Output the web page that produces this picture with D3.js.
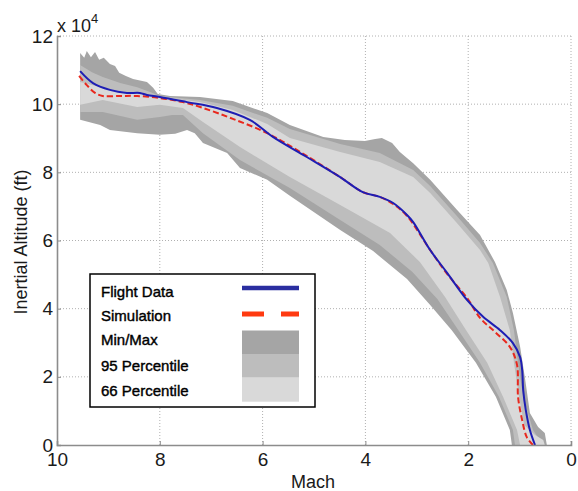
<!DOCTYPE html>
<html>
<head>
<meta charset="utf-8">
<script src="https://cdn.jsdelivr.net/npm/d3@7"></script>
<style>
  html, body { margin: 0; padding: 0; background: #fff; }
  svg { display: block; font-family: Arial, "Liberation Sans", sans-serif; }
</style>
</head>
<body>
<svg id="chart" width="578" height="491"></svg>
<script>
// ---------- data (Mach, altitude in ft) ----------
const xTicks = [10, 8, 6, 4, 2, 0];
const yTicks = [0, 20000, 40000, 60000, 80000, 100000, 120000];
const yTickLabels = ["0", "2", "4", "6", "8", "10", "12"];

const flightData = [
  [9.55,109700],[9.30,106200],[8.97,104200],[8.64,103300],[8.39,103300],[8.25,102700],
  [8.00,102100],[7.47,100600],[6.89,98900],[6.25,95400],[5.80,90400],[5.14,84500],
  [4.49,78600],[4.05,74200],[3.72,72800],[3.46,71000],[3.19,67500],[3.07,65400],
  [2.74,57200],[2.41,50500],[2.02,42500],[1.71,37600],[1.38,33700],[1.13,29900],
  [0.99,25800],[0.95,22000],[0.93,16100],[0.88,10300],[0.80,4400],[0.70,0]
];
const simulation = [
  [9.57,108300],[9.42,105600],[9.26,103300],[9.11,102400],[8.77,102400],[8.44,102400],
  [8.00,101800],[7.55,100600],[7.16,98900],[6.58,95700],[5.91,91500],[5.27,86000],
  [4.49,78600],[4.05,74200],[3.72,72800],[3.46,70700],[3.19,67200],[2.74,57200],
  [2.41,50200],[2.02,43100],[1.77,37300],[1.48,33200],[1.19,28800],[1.05,23500],
  [1.03,14100],[0.95,7300],[0.86,2300],[0.74,0]
];

const minMaxUpper = [
  [9.55,115000],[9.47,113600],[9.42,115600],[9.34,113800],[9.26,115300],[9.18,113000],
  [9.09,113600],[8.97,111800],[8.87,111200],[8.79,109200],[8.66,108300],[8.52,107400],
  [8.25,106500],[8.13,104800],[8.04,103000],[7.80,102400],[7.22,102100],[6.58,100900],
  [5.91,97400],[5.47,93900],[4.82,90400],[4.40,89500],[4.01,89200],[3.81,89800],
  [3.68,90100],[3.48,88600],[3.33,86000],[3.07,82700],[2.74,77800],[2.22,69000],
  [1.77,61600],[1.48,53700],[1.25,45500],[1.13,38700],[0.99,28800],[0.89,19100],
  [0.80,9400],[0.64,5300],[0.51,3500],[0.47,0]
];
const minMaxLower = [
  [9.55,95400],[9.16,93900],[8.97,92400],[8.44,91500],[8.00,91000],[7.70,91300],
  [7.47,92400],[7.32,91500],[7.16,88600],[6.69,85700],[6.44,81300],[5.91,77800],
  [5.47,73100],[4.49,63100],[3.85,56900],[3.19,48700],[2.74,41100],[2.32,33700],
  [1.85,24100],[1.46,14100],[1.19,4400],[1.15,0]
];
const p95Upper = [
  [9.55,111500],[9.32,109400],[9.11,108000],[8.77,106200],[8.44,105000],[8.19,103600],
  [8.00,102400],[7.22,101200],[6.58,99500],[5.91,96000],[5.47,92700],[4.49,88300],
  [3.72,85700],[3.07,80700],[2.74,76000],[2.22,67200],[1.77,59300],[1.52,53400],
  [1.25,43400],[1.11,33700],[1.03,24100],[0.93,14100],[0.74,4400],[0.54,0]
];
const p95Lower = [
  [9.55,97700],[9.11,97700],[8.44,95400],[8.00,96200],[7.76,96800],[7.55,96800],
  [7.16,91500],[6.44,83600],[5.47,75400],[4.49,66000],[3.72,58700],[3.09,50800],
  [2.60,42800],[2.19,33700],[1.77,24100],[1.40,14100],[1.13,4400],[1.09,0]
];
const p66Upper = [
  [9.55,106500],[9.11,104800],[8.44,103000],[8.00,102100],[7.22,100600],[6.58,98300],
  [5.91,94200],[5.47,90100],[4.49,86000],[3.72,83000],[3.07,78600],[2.74,73900],
  [2.22,65100],[1.77,57200],[1.61,53400],[1.38,43400],[1.19,33700],[1.11,24100],
  [1.01,14100],[0.91,5900],[0.70,2900],[0.54,1500],[0.51,0]
];
const p66Lower = [
  [9.55,99800],[9.11,101200],[8.44,99200],[8.00,99800],[7.55,98900],[7.16,94800],
  [6.44,87400],[5.47,78600],[4.49,70400],[3.52,62200],[2.94,53700],[2.45,43400],
  [2.04,33700],[1.63,24100],[1.32,14100],[1.05,4400],[0.99,0]
];

const legendItems = ["Flight Data", "Simulation", "Min/Max", "95 Percentile", "66 Percentile"];
const bandColors = ["#a5a5a5", "#bdbdbd", "#d9d9d9"];

// ---------- drawing ----------
const svg = d3.select("#chart");
const mLeft = 57, mRight = 571, mTop = 36, mBottom = 445;
const x = d3.scaleLinear().domain([10, 0]).range([mLeft, mRight]);
const y = d3.scaleLinear().domain([0, 120000]).range([mBottom, mTop]);

// grid
const grid = svg.append("g");
grid.selectAll("line.vg").data(xTicks.slice(1)).enter().append("line")
  .attr("x1", d => x(d)).attr("x2", d => x(d)).attr("y1", mTop).attr("y2", mBottom)
  .attr("stroke", "#b0b0b0").attr("stroke-width", 1).attr("stroke-dasharray", "1,2");
grid.selectAll("line.hg").data(yTicks.slice(1)).enter().append("line")
  .attr("x1", mLeft).attr("x2", mRight).attr("y1", d => y(d)).attr("y2", d => y(d))
  .attr("stroke", "#b0b0b0").attr("stroke-width", 1).attr("stroke-dasharray", "1,2");

// bands
const poly = d3.line().x(d => x(d[0])).y(d => y(d[1]));
function band(upper, lower, color) {
  const pts = upper.concat(lower.slice().reverse());
  svg.append("path").attr("d", poly(pts) + "Z").attr("fill", color).attr("stroke", "none");
}
band(minMaxUpper, minMaxLower, bandColors[0]);
band(p95Upper, p95Lower, bandColors[1]);
band(p66Upper, p66Lower, bandColors[2]);

// lines
const smooth = d3.line().x(d => x(d[0])).y(d => y(d[1])).curve(d3.curveCatmullRom.alpha(0.5));
svg.append("path").attr("d", smooth(simulation)).attr("fill", "none")
  .attr("stroke", "#e8281e").attr("stroke-width", 2).attr("stroke-dasharray", "6,3");
svg.append("path").attr("d", smooth(flightData)).attr("fill", "none")
  .attr("stroke", "#1e1eb4").attr("stroke-width", 2);

// axes
const axisColor = "#8c8c8c";
const xAxis = svg.append("g").attr("transform", `translate(0,${mBottom})`)
  .call(d3.axisBottom(x).tickValues(xTicks).tickSize(-4).tickPadding(8).tickFormat(d3.format("d")));
const yAxis = svg.append("g").attr("transform", `translate(${mLeft},0)`)
  .call(d3.axisLeft(y).tickValues(yTicks).tickSize(-4).tickPadding(5).tickFormat((d, i) => yTickLabels[i]));
[xAxis, yAxis].forEach(a => {
  a.select(".domain").attr("stroke", axisColor).attr("stroke-width", 1.6);
  a.selectAll(".tick line").attr("stroke", axisColor);
  a.selectAll(".tick text").attr("fill", "#1a1a1a").attr("font-size", 19)
    .attr("font-family", "Arial, 'Liberation Sans', sans-serif");
});
xAxis.selectAll(".tick text").attr("y", 8).attr("dy", "0.71em");
yAxis.selectAll(".tick text").attr("x", -4);

// exponent label
const ex = svg.append("text").attr("x", 57).attr("y", 32).attr("font-size", 18).attr("fill", "#1a1a1a");
ex.append("tspan").text("x 10");
ex.append("tspan").attr("font-size", 13).attr("dy", -9).text("4");

// axis titles
svg.append("text").attr("x", 313).attr("y", 488).attr("text-anchor", "middle")
  .attr("font-size", 18).attr("fill", "#1a1a1a").text("Mach");
svg.append("text").attr("transform", "translate(27,242) rotate(-90)").attr("text-anchor", "middle")
  .attr("font-size", 18).attr("fill", "#1a1a1a").text("Inertial Altitude (ft)");

// legend
const lg = svg.append("g");
lg.append("rect").attr("x", 90).attr("y", 274).attr("width", 225).attr("height", 133)
  .attr("fill", "#fff").attr("stroke", "#000").attr("stroke-width", 1.5);
const rowY = [296.5, 320.5, 345, 370.5, 396];
lg.selectAll("text.li").data(legendItems).enter().append("text")
  .attr("x", 101).attr("y", (d, i) => rowY[i]).attr("font-size", 15).attr("fill", "#000")
  .attr("stroke", "#000").attr("stroke-width", 0.4).text(d => d);
lg.append("line").attr("x1", 242).attr("x2", 299).attr("y1", 288).attr("y2", 288)
  .attr("stroke", "#2a2ea0").attr("stroke-width", 4.5);
lg.append("line").attr("x1", 242).attr("x2", 299).attr("y1", 314).attr("y2", 314)
  .attr("stroke", "#ff3a10").attr("stroke-width", 5).attr("stroke-dasharray", "22,17");
const sw = [[330.5, 354], [354, 377.7], [377.7, 401.7]];
sw.forEach((s, i) => {
  lg.append("rect").attr("x", 242).attr("y", s[0]).attr("width", 57).attr("height", s[1] - s[0])
    .attr("fill", bandColors[i]);
});
</script>
</body>
</html>
